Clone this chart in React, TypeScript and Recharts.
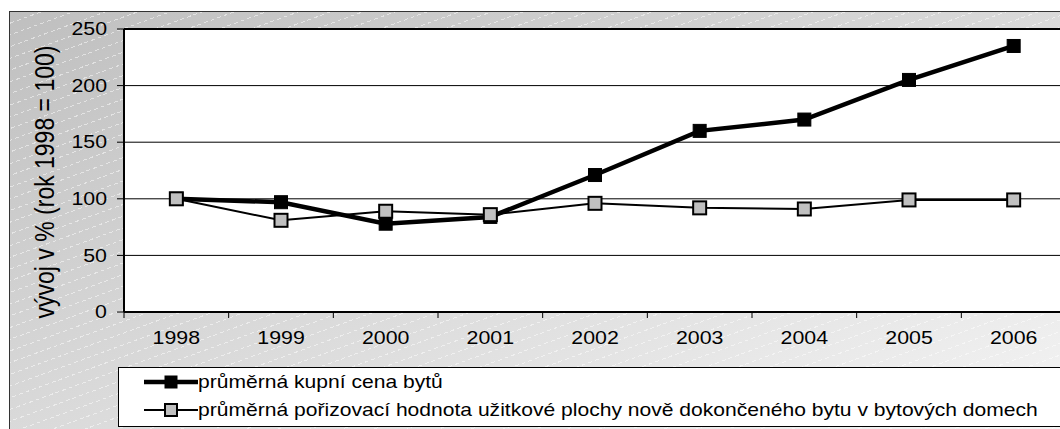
import React from "react";
import { CartesianGrid, Line, LineChart, ReferenceLine, XAxis, YAxis } from "recharts";

const YEARS = ["1998", "1999", "2000", "2001", "2002", "2003", "2004", "2005", "2006"];
const PURCHASE_PRICE = [100, 97, 78, 84, 121, 160, 170, 205, 235];
const ACQUISITION_VALUE = [100, 81, 89, 86, 96, 92, 91, 99, 99];
const Y_TICKS = [0, 50, 100, 150, 200, 250];
const SERIES_NAMES = [
  "průměrná kupní cena bytů",
  "průměrná pořizovací hodnota užitkové plochy nově dokončeného bytu v bytových domech",
];
const Y_TITLE = "vývoj v % (rok 1998 = 100)";

const data = YEARS.map((year, i) => ({
  year,
  price: PURCHASE_PRICE[i],
  value: ACQUISITION_VALUE[i],
}));

// the source picture is stretched sideways, so text is too
const STRETCH = 1.22;
const FONT = "'Liberation Sans', Arial, sans-serif";
const PLOT_LEFT = 124;
const PLOT_RIGHT = 1066;
const BAND = (PLOT_RIGHT - PLOT_LEFT) / YEARS.length;

function StretchText({ x, y, anchor = "middle", size = 17.5, stretch = STRETCH, children }: any) {
  return (
    <text
      transform={`translate(${x},${y}) scale(${stretch},1)`}
      textAnchor={anchor}
      dominantBaseline="central"
      fontSize={size}
      fontFamily={FONT}
      fill="#000"
    >
      {children}
    </text>
  );
}

function XTick({ x, y, payload, index }: any) {
  const half = BAND / 2;
  return (
    <g>
      <line x1={x - half} x2={x - half} y1={y} y2={y + 6} stroke="#000" strokeWidth={1} />
      {index === YEARS.length - 1 && (
        <line x1={x + half} x2={x + half} y1={y} y2={y + 6} stroke="#000" strokeWidth={1} />
      )}
      <StretchText x={x} y={y + 26}>
        {payload.value}
      </StretchText>
    </g>
  );
}

function YTick({ x, y, payload }: any) {
  return (
    <StretchText x={x} y={y} anchor="end">
      {payload.value}
    </StretchText>
  );
}

function SquareDot({ cx, cy, size, fill, stroke, strokeWidth }: any) {
  if (cx == null || cy == null) return null;
  return (
    <rect
      x={cx - size / 2}
      y={cy - size / 2}
      width={size}
      height={size}
      fill={fill}
      stroke={stroke}
      strokeWidth={strokeWidth}
    />
  );
}

const SERIES_STYLE = [
  { width: 4.5, fill: "#000", dotStroke: 1 },
  { width: 2, fill: "#c0c0c0", dotStroke: 2 },
];

function LegendBox() {
  return (
    <div
      style={{
        position: "absolute",
        left: 118,
        top: 367,
        width: 980,
        height: 58,
        background: "#fff",
        border: "1px solid #000",
      }}
    >
      <svg width={980} height={58}>
        {SERIES_NAMES.map((name, i) => {
          const cy = 14 + i * 28;
          const s = SERIES_STYLE[i];
          return (
            <g key={name}>
              <line x1={25} x2={79} y1={cy} y2={cy} stroke="#000" strokeWidth={s.width} />
              <SquareDot cx={52} cy={cy} size={12} fill={s.fill} stroke="#000" strokeWidth={s.dotStroke} />
              <StretchText x={79} y={cy} anchor="start" stretch={1.205}>
                {name}
              </StretchText>
            </g>
          );
        })}
      </svg>
    </div>
  );
}

export default function App() {
  return (
    <div style={{ position: "relative", width: 1060, height: 429, overflow: "hidden", background: "#fff" }}>
      <style>{"body{margin:0;overflow:hidden}"}</style>
      <div
        style={{
          position: "absolute",
          left: 9,
          top: 11,
          width: 1100,
          height: 440,
          border: "1px solid #333",
          background: "linear-gradient(to bottom right, #bfbfbf, #f7f7f7)",
        }}
      />
      <div
        style={{
          position: "absolute",
          left: 10,
          top: 12,
          width: 1100,
          height: 440,
          background:
            "repeating-linear-gradient(160deg, rgba(255,255,255,0) 0px, rgba(255,255,255,0) 10px, rgba(255,255,255,0.5) 10px, rgba(255,255,255,0.5) 11px)",
          WebkitMaskImage:
            "repeating-linear-gradient(70deg, #000 0px, #000 4px, transparent 4px, transparent 7px)",
          maskImage:
            "repeating-linear-gradient(70deg, #000 0px, #000 4px, transparent 4px, transparent 7px)",
        }}
      />
      <div style={{ position: "absolute", left: 0, top: 0 }}>
        <LineChart width={1100} height={429} data={data} margin={{ top: 29, right: 34, bottom: 0, left: 0 }}>
          <CartesianGrid vertical={false} stroke="#000" fill="#fff" />
          <XAxis
            dataKey="year"
            scale="band"
            height={117}
            axisLine={{ stroke: "#000", strokeWidth: 2 }}
            tickLine={false}
            tickSize={0}
            tickMargin={0}
            interval={0}
            tick={<XTick />}
          />
          <YAxis
            width={124}
            domain={[0, 250]}
            ticks={Y_TICKS}
            interval={0}
            axisLine={{ stroke: "#000", strokeWidth: 2 }}
            tickLine={{ stroke: "#000" }}
            tickSize={7}
            tickMargin={10}
            tick={<YTick />}
            label={{
              content: () => (
                <text
                  transform={`translate(44,182) rotate(-90) scale(1,1.2)`}
                  textAnchor="middle"
                  dominantBaseline="central"
                  fontSize={23}
                  fontFamily={FONT}
                  fill="#000"
                >
                  {Y_TITLE}
                </text>
              ),
            }}
          />
          <ReferenceLine y={250} stroke="#000" strokeWidth={2} />
          <Line
            dataKey="price"
            name={SERIES_NAMES[0]}
            stroke="#000"
            strokeWidth={SERIES_STYLE[0].width}
            dot={<SquareDot size={13} fill="#000" stroke="#000" strokeWidth={1} />}
            activeDot={false}
            isAnimationActive={false}
          />
          <Line
            dataKey="value"
            name={SERIES_NAMES[1]}
            stroke="#000"
            strokeWidth={SERIES_STYLE[1].width}
            dot={<SquareDot size={13} fill="#c0c0c0" stroke="#000" strokeWidth={2} />}
            activeDot={false}
            isAnimationActive={false}
          />
        </LineChart>
      </div>
      <LegendBox />
    </div>
  );
}
